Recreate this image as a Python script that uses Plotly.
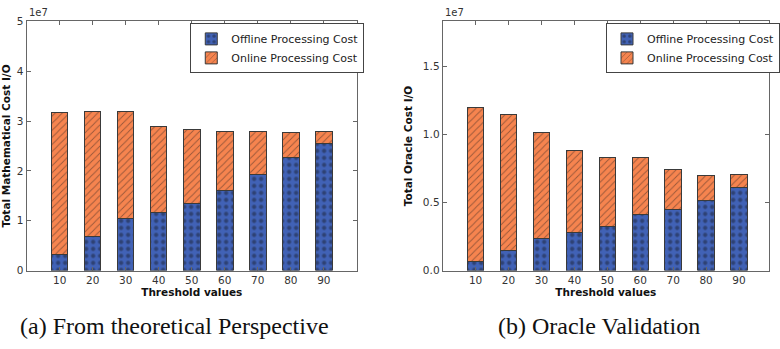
import plotly.graph_objects as go

# Threshold values on the x axis
thresholds = [10, 20, 30, 40, 50, 60, 70, 80, 90]

# (a) theoretical cost, in units of 1e7 I/O
theory_offline = [0.32, 0.68, 1.05, 1.17, 1.35, 1.61, 1.93, 2.26, 2.55]
theory_total = [3.17, 3.19, 3.19, 2.90, 2.83, 2.79, 2.79, 2.78, 2.80]

# (b) oracle-measured cost, in units of 1e7 I/O
oracle_offline = [0.068, 0.149, 0.238, 0.276, 0.325, 0.413, 0.448, 0.517, 0.613]
oracle_total = [1.193, 1.142, 1.014, 0.884, 0.828, 0.833, 0.743, 0.698, 0.703]

SCALE = 1e7
theory_online = [t - o for t, o in zip(theory_total, theory_offline)]
oracle_online = [t - o for t, o in zip(oracle_total, oracle_offline)]

BLUE = "#4162b6"
ORANGE = "#f6844f"
EDGE = "#3a3a3a"
FONT = "DejaVu Sans"

W, H = 780, 349


def bars(vals, name, color, shape, xa, ya, legend):
    return go.Bar(
        x=thresholds,
        y=[v * SCALE for v in vals],
        width=5,
        name=name,
        legend=legend,
        xaxis=xa,
        yaxis=ya,
        marker=dict(
            color=color,
            line=dict(color=EDGE, width=1),
            pattern=dict(
                shape=shape,
                fgcolor="#1c2233" if shape == "." else "#3a2a22",
                bgcolor=color,
                size=7 if shape == "." else 5,
                solidity=0.3 if shape == "." else 0.18,
            ),
        ),
    )


fig = go.Figure()
fig.add_trace(bars(theory_offline, "Offline Processing Cost", BLUE, ".", "x", "y", "legend"))
fig.add_trace(bars(theory_online, "Online Processing Cost", ORANGE, "/", "x", "y", "legend"))
fig.add_trace(bars(oracle_offline, "Offline Processing Cost", BLUE, ".", "x2", "y2", "legend2"))
fig.add_trace(bars(oracle_online, "Online Processing Cost", ORANGE, "/", "x2", "y2", "legend2"))


def px_x(p):
    return p / W


def px_y(p):
    return 1 - p / H


axis_common = dict(
    showgrid=False,
    zeroline=False,
    showline=True,
    linecolor="#666666",
    linewidth=1,
    mirror="allticks",
    ticks="inside",
    ticklen=4,
    tickcolor="#666666",
    tickfont=dict(family=FONT, size=10.5, color="#333333"),
)

title_font = dict(family=FONT, size=10.5, color="#111111")
ydom = [px_y(274), px_y(16)]

fig.update_layout(
    width=W,
    height=H,
    margin=dict(l=0, r=0, t=0, b=0),
    paper_bgcolor="white",
    plot_bgcolor="white",
    barmode="stack",
    font=dict(family=FONT, color="#222222"),
    xaxis=dict(
        axis_common,
        domain=[px_x(27), px_x(362)],
        range=[0, 100],
        tickvals=thresholds,
        anchor="y",
        title=dict(text="<b>Threshold values</b>", font=title_font, standoff=2),
    ),
    yaxis=dict(
        axis_common,
        domain=ydom,
        range=[0, 5 * SCALE],
        tickvals=[i * SCALE for i in range(6)],
        ticktext=[str(i) for i in range(6)],
        anchor="x",
        title=dict(text="<b>Total Mathematical Cost I/O</b>", font=title_font, standoff=8),
    ),
    xaxis2=dict(
        axis_common,
        domain=[px_x(449), 1.0],
        range=[0, 99.1],
        tickvals=thresholds,
        anchor="y2",
        title=dict(text="<b>Threshold values</b>", font=title_font, standoff=2),
    ),
    yaxis2=dict(
        axis_common,
        domain=ydom,
        range=[0, 1.828 * SCALE],
        tickvals=[0, 0.5 * SCALE, 1.0 * SCALE, 1.5 * SCALE],
        ticktext=["0.0", "0.5", "1.0", "1.5"],
        anchor="x2",
        title=dict(text="<b>Total Oracle Cost I/O</b>", font=title_font, standoff=8),
    ),
    legend=dict(
        x=px_x(193), y=px_y(18), xanchor="left", yanchor="top",
        bgcolor="white", bordercolor="#444444", borderwidth=1,
        font=dict(family=FONT, size=11, color="#222222"),
        traceorder="normal", tracegroupgap=0, itemwidth=30,
    ),
    legend2=dict(
        x=px_x(615), y=px_y(18), xanchor="left", yanchor="top",
        bgcolor="white", bordercolor="#444444", borderwidth=1,
        font=dict(family=FONT, size=11, color="#222222"),
        traceorder="normal", tracegroupgap=0, itemwidth=30,
    ),
)

# Exponent labels above each y axis
for xp, txt in [(27, "1e7"), (449, "1e7")]:
    fig.add_annotation(
        x=px_x(xp), y=px_y(15), xref="paper", yref="paper",
        xanchor="left", yanchor="bottom", showarrow=False,
        text=txt, font=dict(family=FONT, size=10, color="#333333"),
    )

# Panel captions
for xp, txt in [(18, "(a) From theoretical Perspective"), (503, "(b) Oracle Validation")]:
    fig.add_annotation(
        x=px_x(xp), y=px_y(331), xref="paper", yref="paper",
        xanchor="left", yanchor="middle", showarrow=False,
        text=txt, font=dict(family="Liberation Serif", size=24, color="#111111"),
    )

fig.write_html("out.html")
